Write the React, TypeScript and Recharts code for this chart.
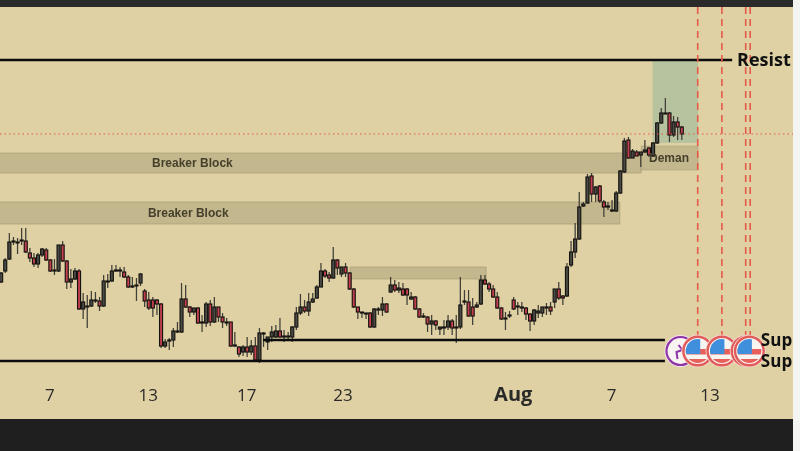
import React from "react";
import {
  ComposedChart,
  Bar,
  XAxis,
  YAxis,
  ReferenceArea,
  ReferenceLine,
  ReferenceDot,
} from "recharts";

const opens = [
  98,109,121,138,138,139,139,127,122,116,125,130,120,110,109,135,119,98,101,109,71,74,74,79,79,74,98,99,109,110,108,103,93,94,97,89,80,80,80,76,34,39,40,48,48,81,73,68,72,58,57,76,58,73,63,58,58,35,33,28,33,28,34,20,46,
  38,43,43,49,43,43,43,53,67,73,69,78,82,93,109,105,102,120,106,113,107,91,73,68,67,67,53,70,70,76,88,95,90,91,91,81,83,71,63,63,56,59,51,53,53,59,52,53,78,78,73,73,76,100,96,91,83,72,62,64,80,74,72,72,66,59,67,67,72,73,78,91,84,84,
  115,128,141,174,177,204,186,194,178,174,169,169,187,208,240,222,228,225,228,232,224,237,257,266,267,245,258,253,
];
const closes = [
  107,120,138,139,137,140,128,122,116,125,131,120,109,109,135,119,98,101,109,71,78,73,80,80,74,99,99,109,110,109,103,93,94,95,106,79,72,72,76,34,38,40,49,49,81,73,68,72,57,57,76,58,73,63,58,57,34,34,26,33,28,34,20,47,47,
  43,48,49,43,44,44,53,67,73,69,78,81,93,109,104,102,120,112,113,107,91,73,68,67,66,53,71,71,76,68,95,90,92,85,85,83,71,63,64,56,59,55,53,52,59,52,53,75,79,64,64,75,100,96,91,83,72,61,61,65,71,73,73,66,59,70,69,73,73,69,91,82,82,113,
  128,141,173,176,203,186,193,179,173,173,170,187,209,239,222,229,224,228,230,225,237,257,267,267,245,258,253,246,
];
const highs = [
  108,122,147,143,142,152,152,132,127,127,132,132,121,121,135,139,120,111,112,111,87,85,89,88,83,105,106,115,115,113,113,105,103,102,107,91,88,83,81,77,41,42,52,58,97,95,74,72,73,65,78,80,83,73,67,62,58,48,34,35,43,40,43,52,48,
  43,54,55,62,50,48,54,73,86,80,87,87,95,117,111,108,133,121,113,117,108,92,73,68,67,68,72,73,83,77,103,100,98,97,92,88,84,72,67,64,65,60,53,60,65,61,65,103,90,90,82,78,105,105,98,95,88,73,68,69,83,78,78,73,67,71,75,73,77,78,91,98,85,117,
  139,157,188,178,206,207,194,195,180,178,180,189,210,242,243,231,230,228,240,233,238,258,272,282,268,264,263,254,
];
const lows = [
  97,107,120,135,126,135,127,118,113,112,123,119,108,105,108,118,91,92,100,70,61,52,73,77,69,73,92,98,108,103,102,92,92,79,94,73,70,63,65,32,32,30,33,47,47,72,63,65,56,48,53,54,57,58,52,54,33,33,23,24,23,25,19,17,33,
  30,38,42,42,38,40,38,50,65,67,64,77,81,93,102,98,101,105,103,103,90,72,61,62,61,52,52,65,64,67,87,88,87,84,75,80,70,62,62,48,45,50,45,45,50,45,37,51,75,63,55,72,75,95,88,82,71,60,50,62,70,65,68,60,49,55,62,63,65,65,72,80,75,83,
  113,122,140,173,176,178,178,177,163,170,168,168,186,207,221,222,224,213,227,223,223,236,256,266,238,243,240,240,
];

const tickPositions = [12, 36, 60, 83.5, 125, 149, 173];
const tickLabels = ["7", "13", "17", "23", "Aug", "7", "13"];

const resistanceLevel = 320;
const supportUpper = 40;
const supportLower = 19;
const lastPriceLevel = 246;

const newsEvents = [170, 175.9, 181.7, 182.8];
const flagEvents = [170, 175.9, 181.8, 182.6];
const cycleEvent = 165.8;

const candles = opens.map((open, i) => ({
  t: i,
  open,
  close: closes[i],
  range: [lows[i], highs[i]],
}));

const X_MIN = -0.17;
const X_MAX = 193.24;

function Candle(props: any) {
  const { x, y, width, height, payload } = props;
  if (!payload) return null;
  const [low, high] = payload.range;
  const k = height / Math.max(high - low, 0.001);
  const yOf = (v: number) => y + (high - v) * k;
  const top = yOf(Math.max(payload.open, payload.close));
  const bottom = yOf(Math.min(payload.open, payload.close));
  const up = payload.close >= payload.open;
  const cx = x + width / 2;
  return (
    <g>
      <line x1={cx} x2={cx} y1={y} y2={y + height} stroke="#3f3e38" strokeWidth={1.25} />
      <rect
        x={x}
        y={top}
        width={width}
        height={Math.max(bottom - top, 0.8)}
        fill={up ? "#4b4b46" : "#c4404e"}
        stroke="#151310"
        strokeWidth={1.15}
      />
    </g>
  );
}

function AxisTick(props: any) {
  const { x, y, payload } = props;
  const idx = tickPositions.indexOf(payload.value);
  const label = tickLabels[idx];
  const bold = label === "Aug";
  return (
    <text
      x={x}
      y={y + 12.5}
      textAnchor="middle"
      fontFamily="'Open Sans', sans-serif"
      fontSize={bold ? 20 : 17}
      fontWeight={bold ? 700 : 400}
      fill="#2a2a28"
    >
      {label}
    </text>
  );
}

function FlagIcon(props: any) {
  const { cx, cy } = props;
  const r = 15.5;
  const id = `flag-${Math.round(cx * 10)}`;
  return (
    <g>
      <circle cx={cx} cy={cy} r={r + 0.8} fill="#f6dcd2" />
      <circle cx={cx} cy={cy} r={r - 1.2} fill="#f9f5f0" stroke="#e25b5b" strokeWidth={2.4} />
      <clipPath id={id}>
        <circle cx={cx} cy={cy} r={r - 3.6} />
      </clipPath>
      <g clipPath={`url(#${id})`}>
        <rect x={cx - r} y={cy - 2} width={2 * r} height={5.5} fill="#e8605c" />
        <rect x={cx - r} y={cy + 8} width={2 * r} height={6} fill="#e8605c" />
        <rect x={cx - r} y={cy - r} width={r + 2.5} height={r + 3} fill="#3f8fdc" />
      </g>
    </g>
  );
}

function CycleIcon(props: any) {
  const { cx, cy } = props;
  return (
    <g>
      <circle cx={cx} cy={cy} r={16} fill="#f3e4f0" />
      <circle cx={cx} cy={cy} r={14} fill="#f8f4f2" stroke="#8e35a8" strokeWidth={2.2} />
      <path
        d={`M${cx - 2} ${cy - 6} L${cx + 2} ${cy - 1} L${cx - 4} ${cy + 1} L${cx - 3} ${cy + 8}`}
        fill="none"
        stroke="#8e35a8"
        strokeWidth={2}
      />
    </g>
  );
}

const textShape = (label: string, size: number, weight: number, color: string, family: string, anchor: string) =>
  function TextShape(props: any) {
    return (
      <text
        x={props.cx}
        y={props.cy}
        dy="0.36em"
        textAnchor={anchor as any}
        fontSize={size}
        fontWeight={weight}
        fill={color}
        fontFamily={family}
      >
        {label}
      </text>
    );
  };

const SANS = "'Liberation Sans', Arial, sans-serif";
const OPEN = "'Open Sans', sans-serif";
const ZONE = "#b9ad85";
const ZONE_EDGE = "#a89c76";
const RED = "#e55a49";

export default function App() {
  return (
    <div
      style={{
        position: "absolute",
        left: 0,
        top: 0,
        width: 800,
        height: 451,
        overflow: "hidden",
        background: "#dfd1a4",
      }}
    >
      <div style={{ position: "absolute", left: 0, top: 0, width: 800, height: 7, background: "#2a2a2a" }} />
      <div style={{ position: "absolute", left: 0, top: 419, width: 800, height: 32, background: "#1f1f1f" }} />
      <div style={{ position: "absolute", left: 793, top: 0, width: 7, height: 451, background: "#f4f4f2" }} />
      <div style={{ position: "absolute", left: 0, top: 0, filter: "blur(0.35px)" }}>
        <ComposedChart
          width={800}
          height={451}
          data={candles}
          margin={{ top: 7, right: 7, bottom: 32, left: 0 }}
        >
          <XAxis
            dataKey="t"
            type="number"
            domain={[X_MIN, X_MAX]}
            allowDataOverflow
            ticks={tickPositions}
            interval={0}
            height={39}
            axisLine={false}
            tickLine={false}
            tick={<AxisTick />}
          />
          <YAxis hide type="number" domain={[0, 373]} allowDataOverflow />

          <ReferenceArea x1={159} x2={170.1} y1={237} y2={320} fill="#a3bb9c" fillOpacity={0.68} stroke="none" />
          <ReferenceArea x1={156.2} x2={170.1} y1={210} y2={234} fill={ZONE} fillOpacity={0.75} stroke={ZONE_EDGE} strokeOpacity={0.5} />
          <ReferenceArea ifOverflow="hidden" x1={-5} x2={156.2} y1={207} y2={227} fill={ZONE} fillOpacity={0.75} stroke={ZONE_EDGE} strokeOpacity={0.7} />
          <ReferenceArea ifOverflow="hidden" x1={-5} x2={151} y1={156} y2={178} fill={ZONE} fillOpacity={0.75} stroke={ZONE_EDGE} strokeOpacity={0.7} />
          <ReferenceArea x1={85.2} x2={118.4} y1={101} y2={113} fill={ZONE} fillOpacity={0.75} stroke={ZONE_EDGE} strokeOpacity={0.7} />

          <ReferenceLine y={lastPriceLevel} stroke={RED} strokeWidth={1} strokeDasharray="1.5 3" />

          <ReferenceLine segment={[{ x: X_MIN, y: resistanceLevel }, { x: 178.4, y: resistanceLevel }]} stroke="#0c0c0c" strokeWidth={2.6} />
          <ReferenceLine segment={[{ x: 64, y: supportUpper }, { x: 162, y: supportUpper }]} stroke="#0c0c0c" strokeWidth={2.6} />
          <ReferenceLine segment={[{ x: X_MIN, y: supportLower }, { x: 162, y: supportLower }]} stroke="#0c0c0c" strokeWidth={2.6} />

          <Bar dataKey="range" barSize={3} isAnimationActive={false} shape={<Candle />} />

          {newsEvents.map((t) => (
            <ReferenceLine
              key={`line-${t}`}
              segment={[{ x: t, y: 373 }, { x: t, y: 30 }]}
              stroke={RED}
              strokeWidth={1.6}
              strokeDasharray="7 5"
            />
          ))}

          <ReferenceDot x={46.75} y={217} r={0} shape={textShape("Breaker Block", 12, 700, "#45402c", SANS, "middle")} />
          <ReferenceDot x={45.75} y={167} r={0} shape={textShape("Breaker Block", 12, 700, "#45402c", SANS, "middle")} />
          <ReferenceDot x={163} y={222} r={0} shape={textShape("Deman", 12, 700, "#45402c", SANS, "middle")} />

          <ReferenceDot x={cycleEvent} y={29} r={0} shape={<CycleIcon />} />
          {flagEvents.map((t) => (
            <ReferenceDot key={`flag-${t}`} x={t} y={29} r={0} shape={<FlagIcon />} />
          ))}

          <ReferenceDot x={179.6} y={resistanceLevel} r={0} shape={textShape("Resist", 18, 700, "#111", OPEN, "start")} />
          <ReferenceDot x={185.4} y={supportUpper} r={0} shape={textShape("Sup", 17, 700, "#111", OPEN, "start")} />
          <ReferenceDot x={185.4} y={supportLower} r={0} shape={textShape("Sup", 17, 700, "#111", OPEN, "start")} />
        </ComposedChart>
      </div>
    </div>
  );
}
